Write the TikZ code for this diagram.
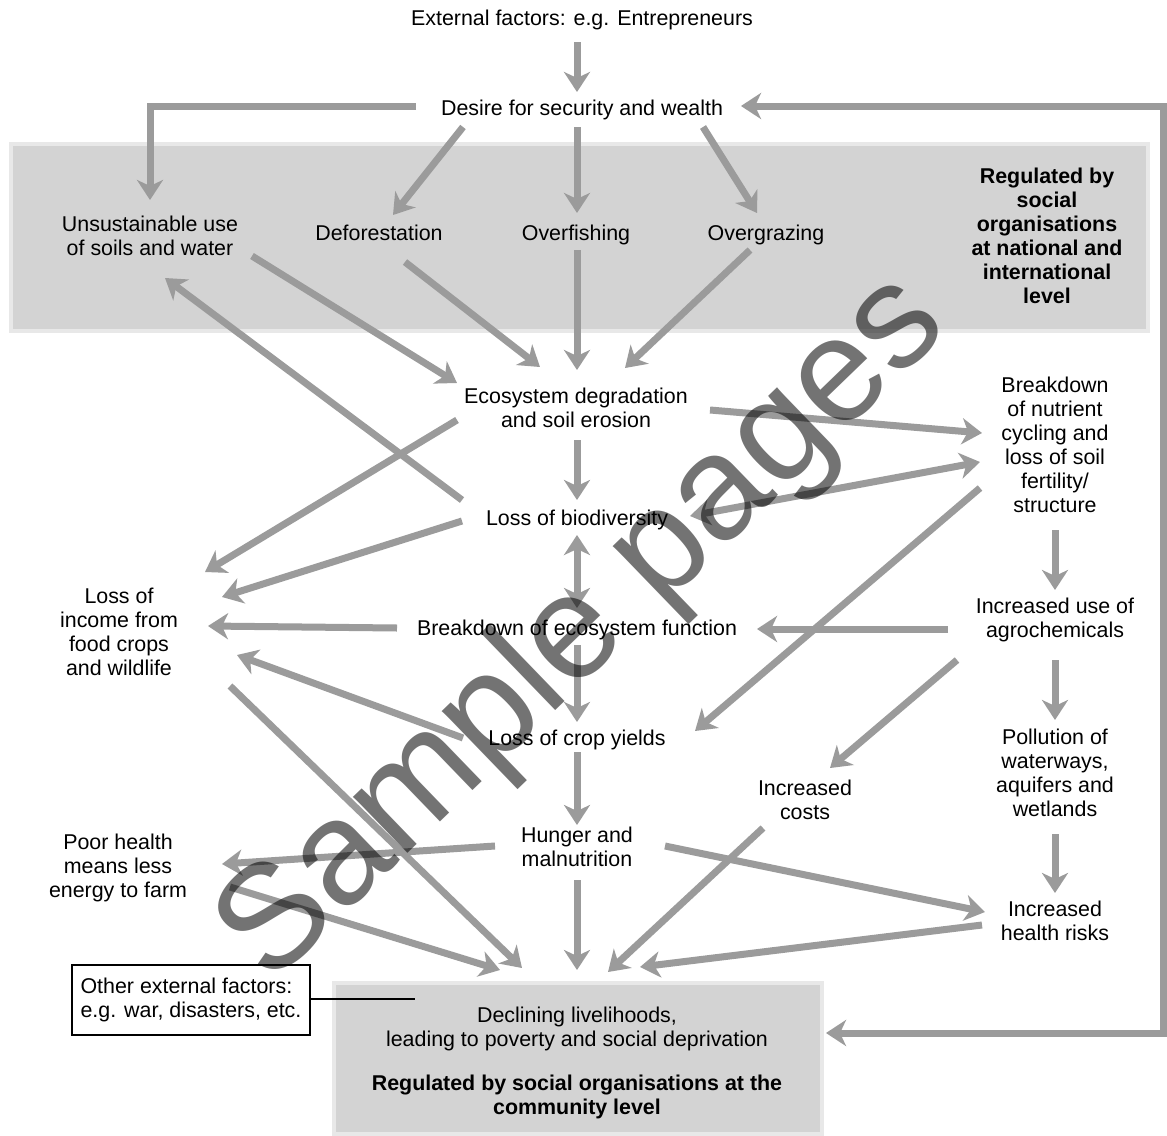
\documentclass[tikz,border=0pt]{standalone}
\usepackage{fontspec}
\setmainfont{Liberation Sans}
\usetikzlibrary{arrows.meta,calc}
\definecolor{arrgray}{RGB}{155,155,155}
\definecolor{boxgray}{RGB}{211,211,211}
\definecolor{rimgray}{RGB}{232,232,232}
\begin{document}
\begin{tikzpicture}[x=0.5pt,y=-0.5pt,
  >={Stealth[length=10pt,width=13pt,inset=3pt]},
  lbl/.style={align=center,font=\fontsize{10.7}{12}\selectfont,inner sep=0pt},
  one/.style={lbl,text height=8pt,text depth=2.4pt,yshift=-1pt},
  blbl/.style={align=center,font=\fontsize{10.7}{12}\selectfont\bfseries,inner sep=0pt},
  arr/.style={draw=arrgray,line width=3.5pt,->},
  darr/.style={draw=arrgray,line width=3.5pt,<->},
  graybox/.style={draw=rimgray,fill=boxgray,line width=2pt}]
\useasboundingbox (0,0) rectangle (1167,1135);
\fill[white] (0,0) rectangle (1167,1135);
% gray boxes
\draw[graybox] (11,144) rectangle (1148,331);
\draw[graybox] (334,983) rectangle (822,1134);
% nodes
\node[one] (ext) at (582,18) {External factors: e.g. Entrepreneurs};
\node[one] (des) at (582,108) {Desire for security and wealth};
\node[lbl] (uns) at (150,236) {Unsustainable use\\of soils and water};
\node[one] (def) at (379,233) {Deforestation};
\node[one] (ovf) at (576,233) {Overfishing};
\node[one] (ovg) at (766,233) {Overgrazing};
\node[blbl] (reg1) at (1047,236) {Regulated by\\social\\organisations\\at national and\\international\\level};
\node[lbl] (eco) at (576,408) {Ecosystem degradation\\and soil erosion};
\node[one] (bio) at (577,518) {Loss of biodiversity};
\node[lbl] (nut) at (1055,445) {Breakdown\\of nutrient\\cycling and\\loss of soil\\fertility/\\structure};
\node[lbl] (inc) at (119,632) {Loss of\\income from\\food crops\\and wildlife};
\node[one] (bef) at (577,628) {Breakdown of ecosystem function};
\node[lbl] (agr) at (1055,620) {Increased use of\\agrochemicals};
\node[one] (crop) at (577,738) {Loss of crop yields};
\node[lbl] (cost) at (805,800) {Increased\\costs};
\node[lbl] (pol) at (1055,773) {Pollution of\\waterways,\\aquifers and\\wetlands};
\node[lbl] (hun) at (577,847) {Hunger and\\malnutrition};
\node[lbl] (poor) at (118,868) {Poor health\\means less\\energy to farm};
\node[lbl] (hea) at (1055,921) {Increased\\health risks};
\node[lbl] (dec) at (577,1029) {Declining livelihoods,\\leading to poverty and social deprivation};
\node[blbl] (reg2) at (577,1097) {Regulated by social organisations at the\\community level};
\node[draw=black,fill=white,line width=0.6pt,align=left,font=\fontsize{10.7}{12}\selectfont,
      minimum width=119pt,minimum height=35pt,inner sep=0pt] (oth) at (191,1000)
      {Other external factors:\\e.g. war, disasters, etc.};
\coordinate (othend) at (415,999);
\draw[line width=0.6pt] (oth.east |- othend) -- (othend);
% corner coordinates of the feedback loop
\coordinate (c1) at (1163,106);
\coordinate (c2) at (1163,1033);
% arrows
\draw[arr] ($(ext)+(-5,22)$) -- ($(des)+(-5,-18)$);
\draw[arr] ($(des)+(-166,-4)$) -| ($(uns)+(0,-36)$);
\draw[arr] ($(des)+(-119,17)$) -- ($(def)+(14,-20)$);
\draw[arr] ($(des)+(-5,17)$) -- ($(ovf)+(1,-22)$);
\draw[arr] ($(des)+(121,17)$) -- ($(ovg)+(-9,-22)$);
\draw[arr] ($(uns)+(102,20)$) -- ($(eco)+(-119,-25)$);
\draw[arr] ($(def)+(26,27)$) -- ($(eco)+(-36,-41)$);
\draw[arr] ($(ovf)+(1,15)$) -- ($(eco)+(1,-38)$);
\draw[arr] ($(ovg)+(-16,15)$) -- ($(eco)+(49,-40)$);
\draw[arr] ($(bio)+(-115,-20)$) -- ($(uns)+(15,42)$);
\draw[arr] ($(eco)+(1,32)$) -- ($(bio)+(0,-20)$);
\draw[arr] ($(eco)+(-119,12)$) -- ($(inc)+(86,-60)$);
\draw[arr] ($(bio)+(-115,1)$) -- ($(inc)+(103,-35)$);
\draw[arr] ($(eco)+(134,2)$) -- ($(nut)+(-73,-12)$);
\draw[darr] ($(bio)+(113,-4)$) -- ($(nut)+(-75,17)$);
\draw[arr] ($(nut)+(0,85)$) -- ($(agr)+(0,-30)$);
\draw[arr] ($(agr)+(-107,9)$) -- ($(bef)+(180,-1)$);
\draw[arr] ($(bef)+(-180,-2)$) -- ($(inc)+(89,-6)$);
\draw[darr] ($(bio)+(0,15)$) -- ($(bef)+(0,-22)$);
\draw[arr] ($(bef)+(0,15)$) -- ($(crop)+(0,-18)$);
\draw[arr] ($(nut)+(-75,43)$) -- ($(crop)+(118,-9)$);
\draw[arr] ($(agr)+(-98,40)$) -- ($(cost)+(25,-32)$);
\draw[arr] ($(agr)+(0,40)$) -- ($(pol)+(0,-53)$);
\draw[arr] ($(crop)+(-114,-2)$) -- ($(inc)+(118,23)$);
\draw[arr] ($(crop)+(0,12)$) -- ($(hun)+(0,-22)$);
\draw[arr] ($(hun)+(-82,-1)$) -- ($(poor)+(104,-4)$);
\draw[arr] ($(hun)+(88,-1)$) -- ($(hea)+(-70,-9)$);
\draw[arr] ($(pol)+(0,61)$) -- ($(hea)+(0,-28)$);
\draw[arr] ($(inc)+(111,54)$) -- ($(dec)+(-55,-61)$);
\draw[arr] ($(poor)+(112,19)$) -- ($(dec)+(-77,-59)$);
\draw[arr] ($(hun)+(0,33)$) -- ($(dec)+(0,-59)$);
\draw[arr] ($(cost)+(-42,28)$) -- ($(dec)+(31,-57)$);
\draw[arr] ($(hea)+(-73,4)$) -- ($(dec)+(63,-62)$);
\draw[darr] ($(dec)+(249,4)$) -- (c2) -- (c1) -- ($(des)+(159,-4)$);
% watermark
\node[rotate=44,font=\fontsize{74}{74}\selectfont,text=black,text opacity=0.55,inner sep=0pt] (wm) at (584,630) {Sample pages};
\end{tikzpicture}
\end{document}
